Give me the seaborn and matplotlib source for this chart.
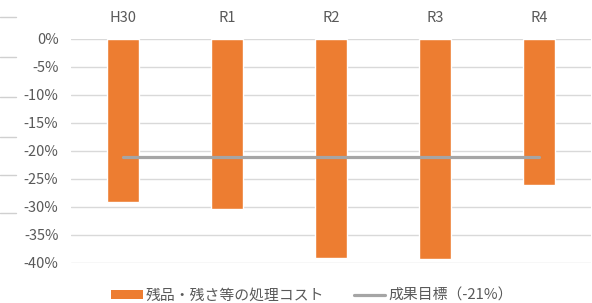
import matplotlib
matplotlib.use("Agg")
import matplotlib.pyplot as plt
from matplotlib.lines import Line2D
from matplotlib.patches import Patch
from matplotlib.ticker import PercentFormatter
import seaborn as sns

years = ["H30", "R1", "R2", "R3", "R4"]
cost_change = [-0.291, -0.303, -0.391, -0.393, -0.261]
target = [-0.21, -0.21, -0.21, -0.21, -0.21]
bar_label = "残品・残さ等の処理コスト"
line_label = "成果目標（-21%）"

bar_color = "#ED7D31"
line_color = "#A5A5A5"
text_color = "#595959"

sns.set_style("white")
plt.rcParams["font.family"] = ["Noto Sans CJK JP", "DejaVu Sans"]
plt.rcParams["axes.unicode_minus"] = False

fig = plt.figure(figsize=(5.92, 3.03), dpi=100)
ax = fig.add_axes([71 / 592, 1 - 263 / 303, 520 / 592, 224 / 303])

sns.barplot(x=years, y=cost_change, color=bar_color, width=0.31,
            saturation=1, ax=ax, zorder=2)
ax.plot(years, target, color=line_color, lw=2.3, zorder=3)

ax.set_ylim(-0.40, 0)
ax.set_xlim(-0.5, 4.5)
ax.set_yticks([-0.40, -0.35, -0.30, -0.25, -0.20, -0.15, -0.10, -0.05, 0])
ax.yaxis.set_major_formatter(PercentFormatter(1.0, decimals=0))
ax.yaxis.grid(True, color="#D9D9D9", lw=1)
ax.set_axisbelow(True)
for s in ax.spines.values():
    s.set_visible(False)
ax.set_xlabel("")
ax.set_ylabel("")

ax.xaxis.tick_top()
ax.tick_params(axis="x", length=0, pad=10, labelsize=10.5, labelcolor=text_color)
ax.tick_params(axis="y", length=0, pad=9, labelsize=10.5, labelcolor=text_color)

# stubs of a neighbouring chart on the left edge
for py in [17, 57, 97, 137, 175, 213]:
    fig.add_artist(Line2D([0, 16 / 592], [1 - py / 303] * 2,
                          transform=fig.transFigure, color="#D0D0D0", lw=1))

handles = [Patch(facecolor=bar_color, edgecolor="none"),
           Line2D([], [], color=line_color, lw=2.3)]
fig.legend(handles, [bar_label, line_label], loc="center",
           bbox_to_anchor=(312 / 592, 1 - 296 / 303),
           ncol=2, frameon=False, fontsize=10.7, handlelength=2.1,
           handleheight=0.55, columnspacing=2.0, handletextpad=0.2,
           labelcolor=text_color)

fig.savefig("out.png", dpi=100)
